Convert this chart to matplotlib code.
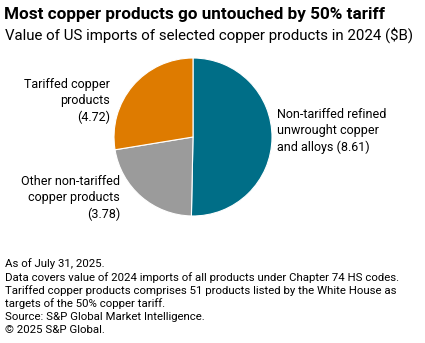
import matplotlib
matplotlib.use("Agg")
import matplotlib.pyplot as plt

plt.rcParams['font.family'] = ['Roboto', 'DejaVu Sans']

categories = ["Non-tariffed refined\nunwrought copper\nand alloys",
              "Other non-tariffed\ncopper products",
              "Tariffed copper\nproducts"]
values = [8.61, 3.78, 4.72]
colors = ["#006E87", "#9B9B9B", "#DE7B00"]

title = "Most copper products go untouched by 50% tariff"
subtitle = "Value of US imports of selected copper products in 2024 ($B)"
notes = ["As of July 31, 2025.",
         "Data covers value of 2024 imports of all products under Chapter 74 HS codes.",
         "Tariffed copper products comprises 51 products listed by the White House as",
         "targets of the 50% copper tariff.",
         "Source: S&P Global Market Intelligence.",
         "\u00a9 2025 S&P Global."]

W, H = 425, 343
fig = plt.figure(figsize=(W / 100, H / 100), dpi=100)

def px(x, y):
    return x / W, 1 - y / H

# pie axes: centre (193, 137), radius 79 px
ax = fig.add_axes([114 / W, (H - 216) / H, 158 / W, 158 / H])
ax.pie(values, colors=colors, startangle=90, counterclock=False,
       wedgeprops=dict(edgecolor="white", linewidth=0.8), radius=1.0)
ax.set_xlim(-1, 1)
ax.set_ylim(-1, 1)
ax.set_aspect("equal")
ax.axis("off")

label_fs = 9
# right label (largest slice)
fig.text(*px(277, 131), f"{categories[0]} ({values[0]:.2f})",
         ha="left", va="center", fontsize=label_fs, linespacing=1.35)
# gray slice label
fig.text(*px(120, 198), f"{categories[1]}\n({values[1]:.2f})",
         ha="right", va="center", fontsize=label_fs, linespacing=1.35, multialignment="right")
# orange slice label
fig.text(*px(110, 101), f"{categories[2]}\n({values[2]:.2f})",
         ha="right", va="center", fontsize=label_fs, linespacing=1.35, multialignment="right")

fig.text(*px(4, 15), title, ha="left", va="center", fontsize=12.3, fontweight="bold")
fig.text(*px(5, 35), subtitle, ha="left", va="center", fontsize=10.8)

for i, line in enumerate(notes):
    fig.text(*px(5, 264 + i * 13.2), line, ha="left", va="center", fontsize=8.2)

fig.savefig("out.png", dpi=100)
